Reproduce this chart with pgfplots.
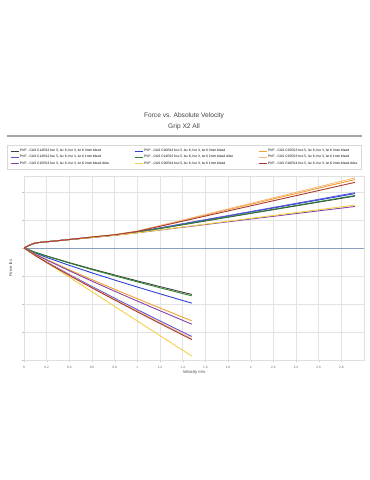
\documentclass[border=0pt]{standalone}
\usepackage{fontspec}
\setmainfont{Liberation Sans}
\usepackage{pgfplots}
\pgfplotsset{compat=1.18}
\definecolor{sOne}{HTML}{404040}
\definecolor{sTwo}{HTML}{2E3FD8}
\definecolor{sThree}{HTML}{F2A030}
\definecolor{sFour}{HTML}{5A55D6}
\definecolor{sFive}{HTML}{2E862E}
\definecolor{sSix}{HTML}{F6BA80}
\definecolor{sSeven}{HTML}{8446A6}
\definecolor{sEight}{HTML}{F4D04A}
\definecolor{sNine}{HTML}{A83A30}
\definecolor{zeroline}{HTML}{8AA0C0}
\begin{document}
\begin{tikzpicture}
\path[use as bounding box] (0,0) rectangle (370pt,480pt);
\node[text=black!75, font=\fontsize{6.6}{8}\selectfont] at (184pt,364pt) {Force vs. Absolute Velocity};
\node[text=black!75, font=\fontsize{6.6}{8}\selectfont] at (184pt,353pt) {Grip X2 All};
\draw[gray!70, line width=1.1pt] (7pt,344pt) -- (362pt,344pt);
\begin{axis}[
  at={(24pt,120pt)}, anchor=south west,
  scale only axis, width=340pt, height=183.5pt,
  xmin=0, xmax=3, ymin=-4, ymax=2.55,
  xtick={0,0.2,0.4,0.6,0.8,1.0,1.2,1.4,1.6,1.8,2.0,2.2,2.4,2.6,2.8},
  xticklabels={0,0.2,0.4,0.6,0.8,1,1.2,1.4,1.6,1.8,2,2.2,2.4,2.6,2.8},
  ytick={-4,-3,-2,-1,1,2}, yticklabels={},
  extra y ticks={0}, extra y tick labels={},
  extra y tick style={grid=major, major grid style={zeroline, line width=0.7pt}},
  grid=major, major grid style={gray!22, line width=0.4pt},
  axis line style={gray!25}, tick style={gray!45},
  tick align=outside, major tick length=2.5pt,
  xtick pos=bottom, ytick pos=left,
  /pgf/number format/assume math mode=true,
  ticklabel style={font=\fontsize{3.2}{4}\selectfont, text=black!60},
  xlabel={Velocity m/s}, ylabel={Force lbs},
  label style={font=\fontsize{4.2}{5}\selectfont, text=black!70},
  xlabel style={yshift=5pt},
  ylabel style={yshift=-6pt},
  every axis plot/.append style={line width=0.9pt},
  legend columns=3,
  legend cell align=left,
  legend image code/.code={\draw[line width=0.9pt, #1] (0pt,0pt) -- (8pt,0pt);},
  legend style={at={(-0.05,1.172)}, anchor=north west,
    draw=gray!30, font=\fontsize{3.3}{4}\selectfont,
    nodes={inner sep=0.9pt}, row sep=0.6pt,
    inner xsep=3pt, inner ysep=3pt,
    /tikz/every even column/.append style={column sep=24pt}},
]
% Series 1
\addplot[sOne] coordinates {(0,0) (0.05,0.10) (0.1,0.18) (0.2,0.22) (0.4,0.30) (0.6,0.38) (0.8,0.46) (1.0,0.56) (1.2,0.694) (1.4,0.828) (1.6,0.963) (1.8,1.098) (2.0,1.232) (2.2,1.366) (2.4,1.500) (2.6,1.635) (2.8,1.769) (2.92,1.85)};
\addlegendentry{PVP - CAS C14R22 hsc 5, lsc 8, hsr 3, lsr 6 3mm bleed}
\addplot[sOne, forget plot] coordinates {(0,0) (0.1,-0.155) (0.2,-0.285) (0.4,-0.525) (0.6,-0.750) (0.8,-0.966) (1.0,-1.176) (1.2,-1.380) (1.4,-1.581) (1.48,-1.66)};
% Series 2
\addplot[sTwo] coordinates {(0,0) (0.05,0.10) (0.1,0.18) (0.2,0.22) (0.4,0.30) (0.6,0.38) (0.8,0.46) (1.0,0.57) (1.2,0.712) (1.4,0.855) (1.6,0.998) (1.8,1.141) (2.0,1.283) (2.2,1.426) (2.4,1.569) (2.6,1.711) (2.8,1.854) (2.92,1.94)};
\addlegendentry{PVP - CAS C16R24 hsc 5, lsc 8, hsr 3, lsr 6 3mm bleed}
\addplot[sTwo, forget plot] coordinates {(0,0) (0.1,-0.184) (0.2,-0.338) (0.4,-0.623) (0.6,-0.890) (0.8,-1.146) (1.0,-1.395) (1.2,-1.638) (1.4,-1.876) (1.48,-1.97)};
% Series 3
\addplot[sThree] coordinates {(0,0) (0.05,0.10) (0.1,0.18) (0.2,0.22) (0.4,0.30) (0.6,0.39) (0.8,0.47) (1.0,0.60) (1.2,0.791) (1.4,0.983) (1.6,1.175) (1.8,1.367) (2.0,1.558) (2.2,1.750) (2.4,1.941) (2.6,2.133) (2.8,2.325) (2.92,2.44)};
\addlegendentry{PVP - CAS C15R23 hsc 5, lsc 8, hsr 3, lsr 6 3mm bleed}
\addplot[sThree, forget plot] coordinates {(0,0) (0.1,-0.218) (0.2,-0.412) (0.4,-0.780) (0.6,-1.133) (0.8,-1.476) (1.0,-1.813) (1.2,-2.144) (1.4,-2.470) (1.48,-2.60)};
% Series 4
\addplot[sFour] coordinates {(0,0) (0.05,0.10) (0.1,0.18) (0.2,0.22) (0.4,0.30) (0.6,0.38) (0.8,0.46) (1.0,0.57) (1.2,0.716) (1.4,0.861) (1.6,1.008) (1.8,1.153) (2.0,1.299) (2.2,1.445) (2.4,1.591) (2.6,1.736) (2.8,1.883) (2.92,1.97)};
\addlegendentry{PVP - CAS C14R22 hsc 5, lsc 8, hsr 3, lsr 6 1mm bleed}
\addplot[sFour, forget plot] coordinates {(0,0) (0.1,-0.265) (0.2,-0.501) (0.4,-0.948) (0.6,-1.377) (0.8,-1.794) (1.0,-2.203) (1.2,-2.605) (1.4,-3.002) (1.48,-3.16)};
% Series 5
\addplot[sFive] coordinates {(0,0) (0.05,0.10) (0.1,0.18) (0.2,0.22) (0.4,0.30) (0.6,0.38) (0.8,0.46) (1.0,0.56) (1.2,0.696) (1.4,0.832) (1.6,0.969) (1.8,1.106) (2.0,1.242) (2.2,1.379) (2.4,1.515) (2.6,1.651) (2.8,1.788) (2.92,1.87)};
\addlegendentry{PVP - CAS C14R22 hsc 5, lsc 8, hsr 3, lsr 6 2mm bleed dcbe}
\addplot[sFive, forget plot] coordinates {(0,0) (0.1,-0.160) (0.2,-0.294) (0.4,-0.541) (0.6,-0.773) (0.8,-0.995) (1.0,-1.211) (1.2,-1.422) (1.4,-1.628) (1.48,-1.71)};
% Series 6
\addplot[sSix] coordinates {(0,0) (0.05,0.10) (0.1,0.18) (0.2,0.22) (0.4,0.30) (0.6,0.39) (0.8,0.47) (1.0,0.60) (1.2,0.798) (1.4,0.995) (1.6,1.194) (1.8,1.392) (2.0,1.590) (2.2,1.788) (2.4,1.985) (2.6,2.183) (2.8,2.381) (2.92,2.50)};
\addlegendentry{PVP - CAS C15R23 hsc 5, lsc 8, hsr 3, lsr 6 1mm bleed}
\addplot[sSix, forget plot] coordinates {(0,0) (0.1,-0.271) (0.2,-0.512) (0.4,-0.969) (0.6,-1.408) (0.8,-1.834) (1.0,-2.252) (1.2,-2.663) (1.4,-3.069) (1.48,-3.23)};
% Series 7
\addplot[sSeven] coordinates {(0,0) (0.05,0.10) (0.1,0.18) (0.2,0.22) (0.4,0.30) (0.6,0.37) (0.8,0.45) (1.0,0.54) (1.2,0.638) (1.4,0.736) (1.6,0.834) (1.8,0.932) (2.0,1.030) (2.2,1.128) (2.4,1.225) (2.6,1.323) (2.8,1.421) (2.92,1.48)};
\addlegendentry{PVP - CAS C15R23 hsc 5, lsc 8, hsr 3, lsr 6 2mm bleed dcbe}
\addplot[sSeven, forget plot] coordinates {(0,0) (0.1,-0.228) (0.2,-0.431) (0.4,-0.816) (0.6,-1.185) (0.8,-1.544) (1.0,-1.896) (1.2,-2.243) (1.4,-2.584) (1.48,-2.72)};
% Series 8
\addplot[sEight] coordinates {(0,0) (0.05,0.10) (0.1,0.18) (0.2,0.22) (0.4,0.30) (0.6,0.37) (0.8,0.45) (1.0,0.54) (1.2,0.643) (1.4,0.746) (1.6,0.849) (1.8,0.953) (2.0,1.056) (2.2,1.159) (2.4,1.262) (2.6,1.365) (2.8,1.468) (2.92,1.53)};
\addlegendentry{PVP - CAS C16R24 hsc 5, lsc 8, hsr 3, lsr 6 1mm bleed}
\addplot[sEight, forget plot] coordinates {(0,0) (0.1,-0.261) (0.2,-0.522) (0.4,-1.043) (0.6,-1.565) (0.8,-2.086) (1.0,-2.608) (1.2,-3.130) (1.4,-3.651) (1.48,-3.86)};
% Series 9
\addplot[sNine] coordinates {(0,0) (0.05,0.10) (0.1,0.18) (0.2,0.22) (0.4,0.30) (0.6,0.39) (0.8,0.47) (1.0,0.59) (1.2,0.772) (1.4,0.954) (1.6,1.137) (1.8,1.319) (2.0,1.501) (2.2,1.684) (2.4,1.866) (2.6,2.048) (2.8,2.231) (2.92,2.34)};
\addlegendentry{PVP - CAS C16R24 hsc 5, lsc 8, hsr 3, lsr 6 2mm bleed dcbe}
\addplot[sNine, forget plot] coordinates {(0,0) (0.1,-0.274) (0.2,-0.519) (0.4,-0.981) (0.6,-1.425) (0.8,-1.857) (1.0,-2.280) (1.2,-2.696) (1.4,-3.107) (1.48,-3.27)};
\end{axis}
\end{tikzpicture}
\end{document}
